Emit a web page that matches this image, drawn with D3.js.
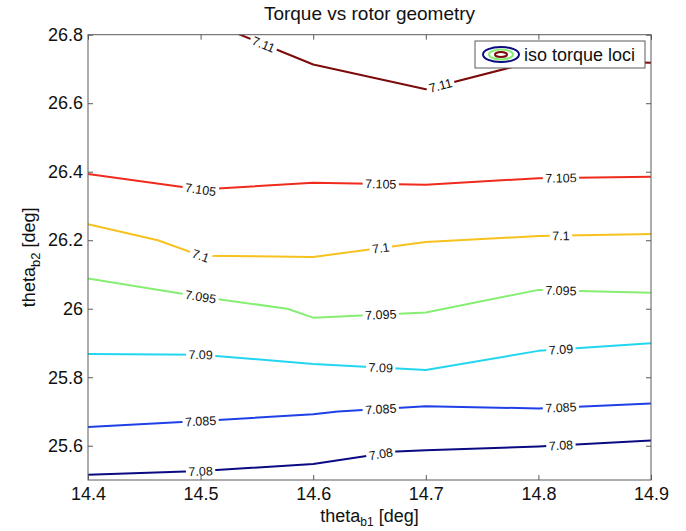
<!DOCTYPE html>
<html>
<head>
<meta charset="utf-8">
<script src="https://cdn.jsdelivr.net/npm/d3@7"></script>
<style>
  html, body { margin: 0; padding: 0; background: #fff; }
  svg { display: block; font-family: "Liberation Sans", Arial, Helvetica, sans-serif; }
</style>
</head>
<body>
<svg id="chart" width="686" height="531"></svg>
<script>
// ---------------- data ----------------
const titleText = "Torque vs rotor geometry";
const xTicks = [14.4, 14.5, 14.6, 14.7, 14.8, 14.9];
const yTicks = [25.6, 25.8, 26.0, 26.2, 26.4, 26.6, 26.8];
const yTickLabels = ["25.6", "25.8", "26", "26.2", "26.4", "26.6", "26.8"];
const xTickLabels = ["14.4", "14.5", "14.6", "14.7", "14.8", "14.9"];

const levels = [7.08, 7.085, 7.09, 7.095, 7.1, 7.105, 7.11];
const levelLabels = ["7.08", "7.085", "7.09", "7.095", "7.1", "7.105", "7.11"];
const levelColors = ["#0a0a82", "#1f40e6", "#22d6f0", "#86ee72", "#f7c21e", "#ee2b1c", "#7d0a0a"];

const c708X  = [14.4, 14.5, 14.6, 14.674, 14.7, 14.8, 14.9];
const c708Y  = [25.515, 25.526, 25.547, 25.583, 25.587, 25.598, 25.615];
const c7085X = [14.4, 14.5, 14.6, 14.622, 14.7, 14.8, 14.9];
const c7085Y = [25.655, 25.672, 25.692, 25.700, 25.715, 25.709, 25.723];
const c709X  = [14.4, 14.5, 14.6, 14.7, 14.8, 14.9];
const c709Y  = [25.868, 25.866, 25.839, 25.821, 25.877, 25.899];
const c7095X = [14.4, 14.5, 14.577, 14.6, 14.7, 14.8, 14.9];
const c7095Y = [26.088, 26.035, 26.0, 25.974, 25.989, 26.055, 26.047];
const c71X   = [14.4, 14.462, 14.5, 14.6, 14.7, 14.8, 14.9];
const c71Y   = [26.247, 26.2, 26.155, 26.151, 26.195, 26.212, 26.218];
const c7105X = [14.4, 14.5, 14.6, 14.7, 14.8, 14.9];
const c7105Y = [26.393, 26.348, 26.368, 26.362, 26.381, 26.385];
const c711X  = [14.5, 14.6, 14.7, 14.8, 14.9];
const c711Y  = [26.847, 26.713, 26.641, 26.725, 26.718];

const labelXsCommon = [14.5, 14.66, 14.82];
const labelXs711 = [14.556, 14.713];

const legendText = "iso torque loci";
const xLabel = "theta";
const xLabelSub = "b1";
const yLabel = "theta";
const yLabelSub = "b2";
const unitText = " [deg]";

// ---------------- layout ----------------
const margin = { left: 88, right: 686 - 651, top: 34.7, bottom: 531 - 480 };
const W = 686, H = 531;
const x = d3.scaleLinear().domain([14.4, 14.9]).range([margin.left, W - margin.right]);
const y = d3.scaleLinear().domain([25.5, 26.8]).range([H - margin.bottom, margin.top]);

const svg = d3.select("#chart");
const axisColor = "#5a5a5a";
const fontSize = 18;

svg.append("defs").append("clipPath").attr("id", "plotclip")
  .append("rect")
  .attr("x", x(14.4)).attr("y", y(26.8))
  .attr("width", x(14.9) - x(14.4)).attr("height", y(25.5) - y(26.8));

svg.append("rect")
  .attr("x", x(14.4)).attr("y", y(26.8))
  .attr("width", x(14.9) - x(14.4)).attr("height", y(25.5) - y(26.8))
  .attr("fill", "#fff");

const contours = [
  { xs: c708X, ys: c708Y },
  { xs: c7085X, ys: c7085Y },
  { xs: c709X, ys: c709Y },
  { xs: c7095X, ys: c7095Y },
  { xs: c71X, ys: c71Y },
  { xs: c7105X, ys: c7105Y },
  { xs: c711X, ys: c711Y }
];

const lineGen = d3.line().x(d => x(d[0])).y(d => y(d[1]));
const plotG = svg.append("g").attr("clip-path", "url(#plotclip)");

contours.forEach((c, i) => {
  const pts = c.xs.map((v, j) => [v, c.ys[j]]);
  plotG.append("path")
    .attr("d", lineGen(pts))
    .attr("fill", "none")
    .attr("stroke", levelColors[i])
    .attr("stroke-width", 2)
    .attr("stroke-linejoin", "round");
});

function pointAt(c, xv) {
  for (let j = 0; j < c.xs.length - 1; j++) {
    if (xv >= c.xs[j] && xv <= c.xs[j + 1]) {
      const t = (xv - c.xs[j]) / (c.xs[j + 1] - c.xs[j]);
      const yv = c.ys[j] + t * (c.ys[j + 1] - c.ys[j]);
      const ang = Math.atan2(y(c.ys[j + 1]) - y(c.ys[j]), x(c.xs[j + 1]) - x(c.xs[j])) * 180 / Math.PI;
      return { px: x(xv), py: y(yv), ang };
    }
  }
  return null;
}

const labelG = svg.append("g").attr("clip-path", "url(#plotclip)");
contours.forEach((c, i) => {
  const lx = i === 6 ? labelXs711 : labelXsCommon;
  lx.forEach(xv => {
    const p = pointAt(c, xv);
    if (!p) return;
    const g = labelG.append("g").attr("transform", `translate(${p.px},${p.py}) rotate(${p.ang})`);
    const bg = g.append("rect").attr("fill", "#fff");
    const t = g.append("text")
      .attr("text-anchor", "middle")
      .attr("dy", "0.36em")
      .attr("font-size", 12.5)
      .attr("fill", "#111")
      .text(levelLabels[i]);
    const w = t.node().getComputedTextLength();
    bg.attr("x", -w / 2 - 2.5).attr("y", -5).attr("width", w + 5).attr("height", 10);
  });
});

// axes box
svg.append("rect")
  .attr("x", x(14.4)).attr("y", y(26.8))
  .attr("width", x(14.9) - x(14.4)).attr("height", y(25.5) - y(26.8))
  .attr("fill", "none").attr("stroke", axisColor).attr("stroke-width", 1);

const tickLen = 5;
const xAxisBottom = d3.axisBottom(x).tickValues(xTicks).tickSize(-tickLen).tickFormat((d, i) => xTickLabels[i]).tickPadding(7.5);
const xAxisTop = d3.axisTop(x).tickValues(xTicks).tickSize(-tickLen).tickFormat("");
const yAxisLeft = d3.axisLeft(y).tickValues(yTicks).tickSize(-tickLen).tickFormat((d, i) => yTickLabels[i]).tickPadding(5);
const yAxisRight = d3.axisRight(y).tickValues(yTicks).tickSize(-tickLen).tickFormat("");

function styleAxis(g) {
  g.select(".domain").remove();
  g.selectAll(".tick line").attr("stroke", axisColor);
  g.selectAll(".tick text").attr("fill", "#111").attr("font-size", fontSize)
    .attr("font-family", '"Liberation Sans", Arial, Helvetica, sans-serif');
}

svg.append("g").attr("transform", `translate(0,${y(25.5)})`).call(xAxisBottom).call(styleAxis)
  .selectAll(".tick text").attr("dy", "0.71em");
svg.append("g").attr("transform", `translate(0,${y(26.8)})`).call(xAxisTop).call(styleAxis);
svg.append("g").attr("transform", `translate(${x(14.4)},0)`).call(yAxisLeft).call(styleAxis);
svg.append("g").attr("transform", `translate(${x(14.9)},0)`).call(yAxisRight).call(styleAxis);

// title
svg.append("text")
  .attr("x", (x(14.4) + x(14.9)) / 2).attr("y", 20)
  .attr("text-anchor", "middle").attr("font-size", 19).attr("fill", "#111")
  .text(titleText);

// x label
const xl = svg.append("text")
  .attr("x", (x(14.4) + x(14.9)) / 2).attr("y", 522)
  .attr("text-anchor", "middle").attr("font-size", fontSize).attr("fill", "#111");
xl.append("tspan").text(xLabel);
xl.append("tspan").attr("font-size", 12).attr("dy", 4).text(xLabelSub);
xl.append("tspan").attr("dy", -4).text(unitText);

// y label
const yl = svg.append("text")
  .attr("transform", `translate(35,${(y(25.5) + y(26.8)) / 2}) rotate(-90)`)
  .attr("text-anchor", "middle").attr("font-size", fontSize).attr("fill", "#111");
yl.append("tspan").text(yLabel);
yl.append("tspan").attr("font-size", 13).attr("dy", 5).text(yLabelSub);
yl.append("tspan").attr("dy", -5).text(unitText);

// legend
const lg = svg.append("g");
lg.append("rect").attr("x", 475).attr("y", 41).attr("width", 170).attr("height", 27)
  .attr("fill", "#fff").attr("stroke", axisColor).attr("stroke-width", 1);
const iconLevels = [0, 3, 6];
const iconR = [[18, 7.5], [12, 5], [6, 2.5]];
iconLevels.forEach((li, k) => {
  lg.append("ellipse").attr("cx", 501).attr("cy", 54.5)
    .attr("rx", iconR[k][0]).attr("ry", iconR[k][1])
    .attr("fill", "none").attr("stroke", levelColors[li]).attr("stroke-width", 2);
});
lg.append("text").attr("x", 524).attr("y", 61).attr("font-size", fontSize).attr("fill", "#111")
  .text(legendText);
</script>
</body>
</html>
